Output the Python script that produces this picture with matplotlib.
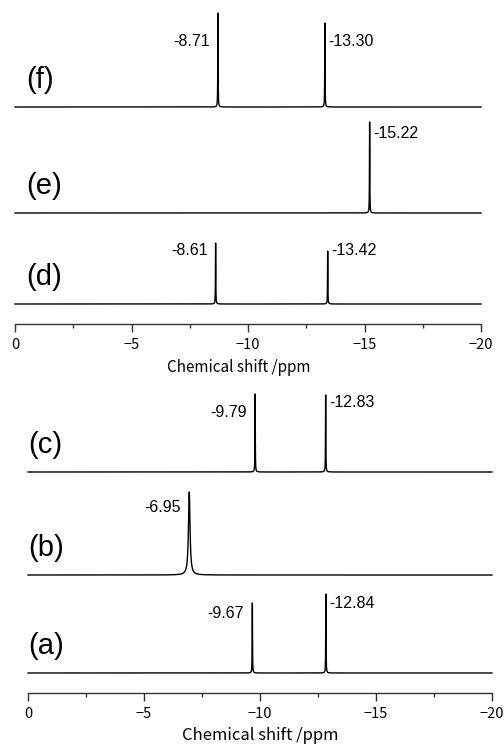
import numpy as np
import matplotlib
matplotlib.use("Agg")
import matplotlib.pyplot as plt
from matplotlib.ticker import MultipleLocator

# peak data, one list per spectrum: position (ppm), height (a.u.), width (ppm)
labels = ["(a)", "(b)", "(c)", "(d)", "(e)", "(f)"]
peak_pos = [[-9.67, -12.84], [-6.95], [-9.79, -12.83],
            [-8.61, -13.42], [-15.22], [-8.71, -13.30]]
peak_h = [[70, 79], [83], [78, 77], [61, 53], [91], [94, 84]]
peak_w = [[0.015, 0.015], [0.08], [0.015, 0.015],
          [0.015, 0.015], [0.015], [0.015, 0.015]]

# layout: stacking offset of each trace and where the peak labels sit
offsets = [20, 118, 221, 20, 111, 217]
label_dy = [[-10, -9], [-15], [-19, -8], [-7, 1], [-11], [-29, -19]]
label_side = [["left", "right"], ["left"], ["left", "right"],
              ["left", "right"], ["right"], ["left", "right"]]

W, H = 504, 746
fig = plt.figure(figsize=(W / 100, H / 100), dpi=100)

tick_font = ["Noto Sans CJK JP", "DejaVu Sans"]
num_font = ["Liberation Sans", "DejaVu Sans"]

x = np.linspace(0, -20, 8001)


def spectrum(pos, hts, wds):
    y = np.zeros_like(x)
    for p, h, w in zip(pos, hts, wds):
        y += h * (w / 2) ** 2 / ((x - p) ** 2 + (w / 2) ** 2)
    return y


def make_axes(left_px, right_px, top_px, axis_px, label_size, label_x):
    ax = fig.add_axes([left_px / W, 1 - axis_px / H,
                       (right_px - left_px) / W, (axis_px - top_px) / H])
    ax.set_xlim(0, -20)
    ax.set_ylim(0, axis_px - top_px)
    for s in ["top", "right", "left"]:
        ax.spines[s].set_visible(False)
    ax.spines["bottom"].set_color("#333333")
    ax.spines["bottom"].set_linewidth(1.0)
    ax.set_yticks([])
    ax.xaxis.set_major_locator(MultipleLocator(5))
    ax.xaxis.set_minor_locator(MultipleLocator(2.5))
    ax.tick_params(axis="x", which="major", direction="out", length=6,
                   width=1.0, color="#333333", pad=4)
    ax.tick_params(axis="x", which="minor", direction="out", length=3,
                   width=1.0, color="#333333")
    for t in ax.get_xticklabels():
        t.set_family(tick_font)
        t.set_fontsize(10.5)
    ax.set_xlabel("Chemical shift /ppm", family=tick_font, fontsize=label_size,
                  labelpad=7)
    ax.xaxis.set_label_coords(label_x, -0.055 if top_px == 0 else -0.06)
    ax.xaxis.label.set_va("center")
    ax.patch.set_alpha(0)
    return ax


ax_top = make_axes(15, 481, 0, 324, 11, 0.48)
ax_bot = make_axes(28, 492, 380, 693, 12, 0.5)
# place the axis titles by pixel below each axis line
ax_top.xaxis.set_label_coords(0.481, -43 / 324)
ax_bot.xaxis.set_label_coords(0.5, -43 / 313)

for i in range(6):
    ax = ax_bot if i < 3 else ax_top
    y = spectrum(peak_pos[i], peak_h[i], peak_w[i]) + offsets[i]
    ax.plot(x, y, color="black", lw=1.0, clip_on=False)
    lx = 0.0 if i < 3 else -0.5
    ax.text(lx, offsets[i] + 27, labels[i], fontsize=21, family=num_font,
            ha="left", va="center")
    for j, p in enumerate(peak_pos[i]):
        ty = offsets[i] + peak_h[i][j] + label_dy[i][j]
        if label_side[i][j] == "left":
            ax.text(p + 0.35, ty, "%.2f" % p, ha="right", va="center",
                    fontsize=11.5, family=num_font)
        else:
            ax.text(p - 0.15, ty, "%.2f" % p, ha="left", va="center",
                    fontsize=11.5, family=num_font)

fig.savefig("out.png", dpi=100)
